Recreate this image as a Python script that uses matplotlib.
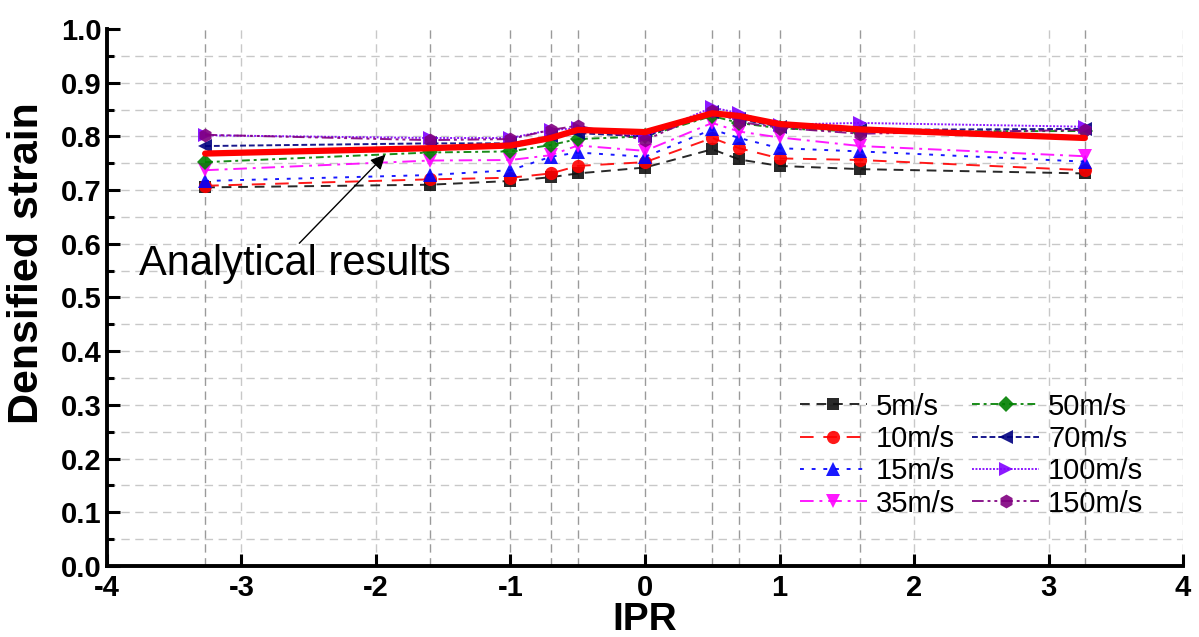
import matplotlib
matplotlib.use('Agg')
import matplotlib.pyplot as plt
import numpy as np

# IPR values at which densified strain was evaluated
ipr = [-3.27, -1.6, -1.0, -0.7, -0.5, 0.0, 0.5, 0.7, 1.0, 1.6, 3.27]

strain_5 = [0.705, 0.710, 0.717, 0.724, 0.731, 0.742, 0.776, 0.757, 0.745, 0.739, 0.731]
strain_10 = [0.708, 0.720, 0.723, 0.731, 0.745, 0.752, 0.797, 0.778, 0.759, 0.756, 0.737]
strain_15 = [0.717, 0.728, 0.737, 0.762, 0.770, 0.762, 0.813, 0.797, 0.778, 0.772, 0.753]
strain_35 = [0.737, 0.755, 0.756, 0.765, 0.783, 0.773, 0.825, 0.809, 0.798, 0.782, 0.763]
strain_50 = [0.752, 0.770, 0.772, 0.784, 0.795, 0.800, 0.838, 0.825, 0.815, 0.809, 0.810]
strain_70 = [0.782, 0.787, 0.787, 0.800, 0.806, 0.800, 0.845, 0.832, 0.818, 0.812, 0.814]
strain_100 = [0.802, 0.797, 0.797, 0.812, 0.815, 0.800, 0.854, 0.843, 0.822, 0.825, 0.818]
strain_150 = [0.803, 0.793, 0.795, 0.812, 0.820, 0.793, 0.848, 0.827, 0.816, 0.805, 0.812]

analytical = [0.768, 0.778, 0.783, 0.797, 0.812, 0.808, 0.843, 0.838, 0.823, 0.813, 0.797]

labels = ['5m/s', '10m/s', '15m/s', '35m/s', '50m/s', '70m/s', '100m/s', '150m/s']
series = [strain_5, strain_10, strain_15, strain_35, strain_50, strain_70, strain_100, strain_150]
colors = ['#111111', '#ff0000', '#0000ff', '#ff00ff', '#008000', '#000080', '#8000ff', '#800080']
markers = ['s', 'o', '^', 'v', 'D', '<', '>', 'h']
styles = [(0, (5, 3.5)), (0, (7, 5)), (0, (2, 4)), (0, (7, 3, 1.5, 3)),
          (0, (4, 2, 1.5, 2)), (0, (3, 1.5)), (0, (1, 0.8)), (0, (6, 2, 1.5, 2, 1.5, 2))]
msizes = [9, 9.5, 9.5, 9.5, 8.5, 9.5, 9.5, 10]

plt.rcParams['font.family'] = ['Liberation Sans', 'DejaVu Sans']
plt.rcParams['axes.unicode_minus'] = False

fig = plt.figure(figsize=(11.99, 6.37), dpi=100)
ax = fig.add_axes([0.0892, 0.1115, 0.8975, 0.843])

# light grid at every 0.05 and at the integer IPR ticks
for yv in np.arange(0.05, 1.0, 0.05):
    ax.axhline(yv, color='#c8c8c8', lw=1.0, ls=(0, (6, 4)), zorder=0)
for xv in [-3, -2, 2, 3, 4]:
    ax.axvline(xv, color='#c8c8c8', lw=1.0, ls=(0, (6, 4)), zorder=0)
# darker guide lines at each evaluated IPR
for xv in ipr:
    ax.axvline(xv, color='#9a9a9a', lw=1.0, ls=(0, (6, 4)), zorder=0)

for vals, lab, c, m, ls, ms in zip(series, labels, colors, markers, styles, msizes):
    ax.plot(ipr, vals, color=c, ls=ls, lw=1.4, marker=m, markersize=ms,
            markeredgewidth=0, alpha=0.9, label=lab, zorder=3)

ax.plot(ipr, analytical, color='#ff0000', lw=4.5, solid_joinstyle='round',
        solid_capstyle='round', zorder=5)

ax.annotate('', xy=(-1.93, 0.766), xytext=(-2.57, 0.601),
            arrowprops=dict(arrowstyle='-|>', color='black', lw=1.0,
                            mutation_scale=22, shrinkA=0, shrinkB=0),
            zorder=6)
ax.text(-3.76, 0.562, 'Analytical results', fontsize=30, ha='left', va='center')

ax.set_xlim(-4, 4)
ax.set_ylim(0, 1.0)
ax.set_xticks(range(-4, 5))
ax.set_yticks(np.arange(0, 1.01, 0.1))
ax.set_yticks(np.arange(0.05, 1.0, 0.1), minor=True)
ax.yaxis.set_major_formatter(matplotlib.ticker.FormatStrFormatter('%.1f'))

ax.tick_params(axis='both', which='major', direction='in', length=9, width=2.2,
               labelsize=21)
ax.tick_params(axis='x', which='major', pad=6)
ax.tick_params(axis='y', which='major', pad=4)
ax.tick_params(axis='y', which='minor', direction='in', length=5, width=2.2)
for lbl in ax.get_xticklabels() + ax.get_yticklabels():
    lbl.set_fontweight('bold')

for side in ['top', 'right']:
    ax.spines[side].set_visible(False)
for side in ['left', 'bottom']:
    ax.spines[side].set_linewidth(2.8)

ax.set_xlabel('IPR', fontsize=28, fontweight='bold', labelpad=0)
ax.set_ylabel('Densified strain', fontsize=31, fontweight='bold')
ax.yaxis.set_label_coords(-0.056, 0.564)

ax.legend(ncol=2, loc='lower right', bbox_to_anchor=(0.982, 0.052), frameon=False,
          fontsize=21, handlelength=2.3, handletextpad=0.3, columnspacing=0.6,
          labelspacing=0.15, borderpad=0.2)

fig.savefig('out.png', dpi=100)
